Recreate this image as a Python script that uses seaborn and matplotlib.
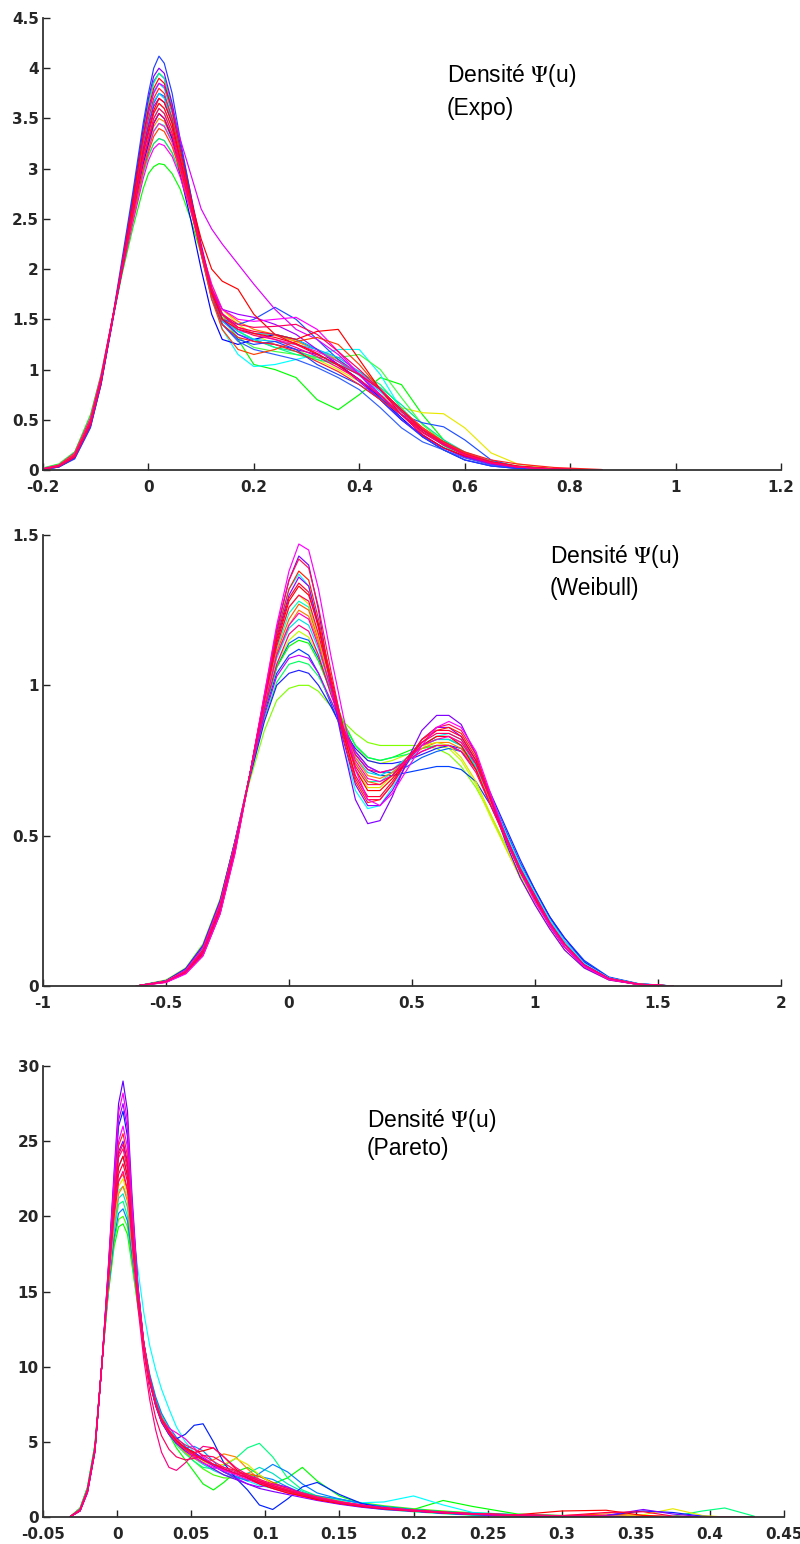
import matplotlib
matplotlib.use("Agg")
import matplotlib.pyplot as plt
import pandas as pd
import seaborn as sns

sns.set_theme(style="ticks")
plt.rcParams["font.family"] = ["Liberation Sans", "DejaVu Sans"]
plt.rcParams["mathtext.fontset"] = "stix"

# ---------------- Expo ----------------
expo_u = [-0.20, -0.17, -0.14, -0.11, -0.09, -0.07, -0.05, -0.03, -0.01, 0.00,
          0.01, 0.02, 0.03, 0.045, 0.06, 0.08, 0.10, 0.12, 0.14, 0.17,
          0.20, 0.24, 0.28, 0.32, 0.36, 0.40, 0.44, 0.48, 0.52, 0.56,
          0.60, 0.65, 0.70, 0.77, 0.86]
expo_curves = [
    [0.02, 0.06, 0.18, 0.55, 0.95, 1.45, 1.95, 2.4, 2.8, 2.95, 3.02, 3.05, 3.04, 2.95, 2.8, 2.5, 2.15, 1.8, 1.55, 1.3, 1.05, 1.0, 0.92, 0.7, 0.6, 0.75, 0.92, 0.85, 0.55, 0.3, 0.14, 0.06, 0.03, 0.01, 0.0],
    [0.01, 0.05, 0.16, 0.5, 0.92, 1.45, 1.98, 2.5, 2.95, 3.12, 3.25, 3.3, 3.28, 3.15, 2.95, 2.6, 2.2, 1.85, 1.6, 1.45, 1.35, 1.25, 1.2, 1.1, 1.0, 0.88, 0.75, 0.62, 0.57, 0.56, 0.42, 0.17, 0.06, 0.015, 0.0],
    [0.012, 0.048, 0.16, 0.5, 0.92, 1.46, 1.98, 2.48, 2.95, 3.13, 3.25, 3.3, 3.28, 3.16, 2.95, 2.6, 2.2, 1.82, 1.55, 1.38, 1.3, 1.22, 1.18, 1.12, 1.05, 0.95, 0.82, 0.65, 0.46, 0.3, 0.18, 0.09, 0.04, 0.012, 0.0],
    [0.015, 0.05, 0.16, 0.5, 0.93, 1.47, 2.0, 2.5, 3.0, 3.2, 3.38, 3.45, 3.43, 3.28, 3.05, 2.65, 2.2, 1.75, 1.4, 1.15, 1.03, 1.05, 1.1, 1.15, 1.2, 1.2, 0.95, 0.6, 0.38, 0.25, 0.15, 0.07, 0.03, 0.008, 0.0],
    [0.012, 0.045, 0.15, 0.48, 0.9, 1.45, 2.0, 2.56, 3.1, 3.31, 3.5, 3.6, 3.55, 3.36, 3.06, 2.65, 2.2, 1.78, 1.5, 1.32, 1.22, 1.18, 1.15, 1.12, 1.12, 1.15, 1.0, 0.72, 0.45, 0.28, 0.16, 0.07, 0.03, 0.008, 0.0],
    [0.01, 0.045, 0.15, 0.49, 0.91, 1.46, 2.0, 2.52, 3.02, 3.22, 3.42, 3.5, 3.47, 3.3, 3.0, 2.62, 2.2, 1.82, 1.6, 1.48, 1.4, 1.35, 1.28, 1.2, 1.08, 0.95, 0.8, 0.6, 0.42, 0.28, 0.17, 0.08, 0.035, 0.01, 0.0],
    [0.01, 0.04, 0.14, 0.47, 0.9, 1.45, 2.01, 2.58, 3.15, 3.36, 3.56, 3.65, 3.6, 3.4, 3.08, 2.66, 2.2, 1.78, 1.52, 1.4, 1.36, 1.34, 1.28, 1.2, 1.1, 0.96, 0.8, 0.6, 0.42, 0.27, 0.16, 0.075, 0.03, 0.008, 0.0],
    [0.008, 0.035, 0.13, 0.46, 0.88, 1.43, 1.98, 2.52, 3.05, 3.25, 3.45, 3.55, 3.5, 3.3, 2.95, 2.5, 2.0, 1.55, 1.3, 1.25, 1.3, 1.35, 1.3, 1.2, 1.05, 0.9, 0.72, 0.52, 0.33, 0.2, 0.1, 0.04, 0.015, 0.004, 0.0],
    [0.005, 0.03, 0.12, 0.44, 0.86, 1.42, 2.02, 2.6, 3.2, 3.45, 3.65, 3.75, 3.72, 3.5, 3.15, 2.7, 2.2, 1.75, 1.5, 1.45, 1.5, 1.62, 1.5, 1.3, 1.1, 0.95, 0.72, 0.55, 0.47, 0.43, 0.3, 0.1, 0.03, 0.005, 0.0],
    [0.006, 0.032, 0.12, 0.44, 0.86, 1.44, 2.06, 2.7, 3.38, 3.66, 3.87, 3.95, 3.9, 3.62, 3.22, 2.72, 2.2, 1.75, 1.45, 1.28, 1.2, 1.15, 1.1, 1.02, 0.92, 0.8, 0.62, 0.42, 0.28, 0.2, 0.12, 0.05, 0.02, 0.005, 0.0],
    [0.012, 0.045, 0.15, 0.48, 0.9, 1.46, 2.05, 2.68, 3.35, 3.65, 3.85, 3.95, 3.9, 3.6, 3.2, 2.7, 2.2, 1.78, 1.5, 1.38, 1.3, 1.22, 1.15, 1.1, 1.05, 0.98, 0.85, 0.62, 0.4, 0.24, 0.13, 0.06, 0.025, 0.006, 0.0],
    [0.008, 0.035, 0.13, 0.45, 0.87, 1.44, 2.04, 2.65, 3.3, 3.57, 3.77, 3.85, 3.8, 3.55, 3.2, 2.72, 2.22, 1.75, 1.48, 1.35, 1.3, 1.28, 1.25, 1.2, 1.12, 0.98, 0.8, 0.58, 0.4, 0.26, 0.15, 0.07, 0.03, 0.008, 0.0],
    [0.01, 0.04, 0.13, 0.46, 0.88, 1.45, 2.03, 2.62, 3.25, 3.48, 3.67, 3.75, 3.7, 3.48, 3.14, 2.7, 2.22, 1.78, 1.5, 1.38, 1.36, 1.35, 1.3, 1.2, 1.08, 0.94, 0.78, 0.58, 0.4, 0.26, 0.15, 0.07, 0.03, 0.008, 0.0],
    [0.005, 0.03, 0.12, 0.43, 0.85, 1.43, 2.05, 2.7, 3.4, 3.7, 3.92, 4.0, 3.95, 3.65, 3.25, 2.75, 2.25, 1.8, 1.5, 1.35, 1.28, 1.25, 1.2, 1.15, 1.05, 0.9, 0.7, 0.5, 0.35, 0.22, 0.13, 0.06, 0.025, 0.006, 0.0],
    [0.01, 0.04, 0.13, 0.46, 0.88, 1.44, 2.02, 2.6, 3.2, 3.42, 3.62, 3.7, 3.66, 3.45, 3.1, 2.65, 2.2, 1.8, 1.6, 1.55, 1.52, 1.45, 1.35, 1.2, 1.05, 0.88, 0.7, 0.5, 0.34, 0.22, 0.13, 0.06, 0.025, 0.006, 0.0],
    [0.005, 0.03, 0.11, 0.42, 0.85, 1.45, 2.1, 2.75, 3.45, 3.75, 4.0, 4.12, 4.05, 3.75, 3.3, 2.75, 2.15, 1.7, 1.45, 1.3, 1.25, 1.28, 1.2, 1.05, 0.95, 0.85, 0.7, 0.5, 0.33, 0.2, 0.1, 0.04, 0.015, 0.004, 0.0],
    [0.015, 0.05, 0.17, 0.52, 0.94, 1.47, 1.98, 2.45, 2.9, 3.08, 3.2, 3.25, 3.23, 3.12, 2.92, 2.58, 2.2, 1.85, 1.6, 1.5, 1.48, 1.5, 1.52, 1.4, 1.18, 0.95, 0.75, 0.55, 0.4, 0.27, 0.16, 0.08, 0.03, 0.008, 0.0],
    [0.012, 0.046, 0.15, 0.49, 0.91, 1.46, 1.99, 2.5, 3.0, 3.19, 3.37, 3.45, 3.42, 3.26, 2.98, 2.6, 2.18, 1.8, 1.56, 1.42, 1.36, 1.3, 1.25, 1.18, 1.08, 0.96, 0.8, 0.6, 0.42, 0.28, 0.17, 0.08, 0.035, 0.01, 0.0],
    [0.01, 0.04, 0.13, 0.45, 0.88, 1.45, 2.05, 2.65, 3.3, 3.55, 3.75, 3.85, 3.82, 3.6, 3.3, 2.95, 2.6, 2.4, 2.25, 2.05, 1.85, 1.6, 1.4, 1.3, 1.15, 0.95, 0.75, 0.55, 0.4, 0.28, 0.17, 0.08, 0.03, 0.01, 0.0],
    [0.012, 0.048, 0.16, 0.5, 0.92, 1.46, 1.99, 2.5, 2.98, 3.16, 3.32, 3.4, 3.37, 3.22, 2.98, 2.6, 2.15, 1.7, 1.4, 1.2, 1.15, 1.2, 1.28, 1.32, 1.25, 1.05, 0.8, 0.6, 0.42, 0.28, 0.17, 0.08, 0.035, 0.01, 0.0],
    [0.01, 0.04, 0.14, 0.47, 0.9, 1.46, 2.0, 2.57, 3.15, 3.38, 3.58, 3.7, 3.66, 3.45, 3.1, 2.7, 2.3, 2.0, 1.88, 1.8, 1.55, 1.35, 1.3, 1.38, 1.4, 1.1, 0.8, 0.55, 0.35, 0.22, 0.14, 0.08, 0.04, 0.01, 0.0],
    [0.008, 0.035, 0.13, 0.46, 0.88, 1.45, 2.02, 2.62, 3.25, 3.5, 3.7, 3.8, 3.75, 3.5, 3.15, 2.7, 2.2, 1.75, 1.45, 1.32, 1.28, 1.25, 1.18, 1.08, 0.98, 0.85, 0.7, 0.55, 0.4, 0.28, 0.18, 0.1, 0.06, 0.025, 0.005],
    [0.008, 0.036, 0.13, 0.45, 0.87, 1.44, 2.04, 2.66, 3.33, 3.6, 3.8, 3.9, 3.85, 3.58, 3.2, 2.72, 2.22, 1.77, 1.5, 1.4, 1.36, 1.32, 1.26, 1.16, 1.04, 0.9, 0.74, 0.55, 0.38, 0.25, 0.15, 0.07, 0.03, 0.008, 0.0],
    [0.01, 0.04, 0.14, 0.47, 0.9, 1.45, 2.0, 2.58, 3.15, 3.35, 3.55, 3.65, 3.6, 3.4, 3.08, 2.68, 2.22, 1.8, 1.55, 1.42, 1.38, 1.35, 1.25, 1.15, 1.05, 0.95, 0.8, 0.6, 0.4, 0.26, 0.16, 0.08, 0.035, 0.01, 0.0],
    [0.01, 0.042, 0.14, 0.47, 0.89, 1.45, 2.0, 2.54, 3.08, 3.28, 3.46, 3.55, 3.5, 3.32, 3.02, 2.62, 2.18, 1.78, 1.55, 1.45, 1.42, 1.43, 1.45, 1.35, 1.18, 1.0, 0.8, 0.58, 0.4, 0.26, 0.15, 0.07, 0.03, 0.008, 0.0],
    [0.01, 0.04, 0.14, 0.48, 0.9, 1.45, 2.0, 2.55, 3.1, 3.3, 3.5, 3.6, 3.55, 3.35, 3.05, 2.65, 2.2, 1.8, 1.55, 1.4, 1.34, 1.3, 1.22, 1.13, 1.02, 0.9, 0.74, 0.55, 0.37, 0.25, 0.15, 0.07, 0.03, 0.008, 0.0],
]
expo_colors = ["#00ff00", "#e8e800", "#00e0a0", "#00ffff", "#40ff40", "#ff8000",
               "#ffa000", "#0000ff", "#1f4fff", "#3060ff", "#00ff80", "#00c0ff",
               "#00d0ff", "#8000ff", "#a000ff", "#2040ff", "#ff00ff", "#ff20c0",
               "#e000ff", "#ff4000", "#ff0000", "#ff2020", "#ff0010", "#ff0040",
               "#ff0060", "#ff0080"]
expo_xticks = [-0.2, 0, 0.2, 0.4, 0.6, 0.8, 1, 1.2]
expo_xlabels = ["-0.2", "0", "0.2", "0.4", "0.6", "0.8", "1", "1.2"]
expo_yticks = [0, 0.5, 1, 1.5, 2, 2.5, 3, 3.5, 4, 4.5]
expo_ylabels = ["0", "0.5", "1", "1.5", "2", "2.5", "3", "3.5", "4", "4.5"]

# ---------------- Weibull ----------------
weib_u = [-0.62, -0.50, -0.42, -0.35, -0.28, -0.22, -0.16, -0.10, -0.05, 0.00,
          0.04, 0.08, 0.12, 0.17, 0.22, 0.27, 0.32, 0.37, 0.42, 0.48,
          0.54, 0.60, 0.65, 0.70, 0.76, 0.82, 0.88, 0.94, 1.00, 1.06,
          1.12, 1.20, 1.30, 1.42, 1.56]
weib_curves = [
    [0.0, 0.02, 0.06, 0.14, 0.29, 0.48, 0.68, 0.85, 0.95, 0.99, 1.0, 1.0, 0.98, 0.93, 0.88, 0.84, 0.81, 0.8, 0.8, 0.8, 0.8, 0.79, 0.77, 0.73, 0.66, 0.57, 0.47, 0.37, 0.28, 0.2, 0.14, 0.07, 0.025, 0.006, 0.0],
    [0.0, 0.016, 0.052, 0.125, 0.27, 0.47, 0.7, 0.92, 1.07, 1.15, 1.18, 1.16, 1.1, 0.99, 0.88, 0.8, 0.75, 0.74, 0.75, 0.77, 0.79, 0.8, 0.79, 0.75, 0.67, 0.56, 0.46, 0.36, 0.28, 0.2, 0.13, 0.065, 0.022, 0.005, 0.0],
    [0.0, 0.017, 0.055, 0.13, 0.28, 0.48, 0.7, 0.91, 1.04, 1.1, 1.12, 1.1, 1.04, 0.94, 0.84, 0.77, 0.72, 0.7, 0.7, 0.71, 0.72, 0.73, 0.73, 0.72, 0.68, 0.6, 0.5, 0.4, 0.31, 0.23, 0.16, 0.085, 0.03, 0.008, 0.0],
    [0.0, 0.016, 0.053, 0.127, 0.275, 0.475, 0.7, 0.92, 1.06, 1.14, 1.16, 1.15, 1.09, 0.98, 0.87, 0.78, 0.73, 0.71, 0.71, 0.73, 0.76, 0.78, 0.79, 0.78, 0.73, 0.63, 0.52, 0.41, 0.32, 0.23, 0.15, 0.08, 0.028, 0.007, 0.0],
    [0.0, 0.016, 0.052, 0.125, 0.27, 0.47, 0.7, 0.92, 1.06, 1.13, 1.15, 1.14, 1.08, 0.98, 0.88, 0.8, 0.76, 0.75, 0.76, 0.78, 0.8, 0.82, 0.82, 0.8, 0.73, 0.61, 0.49, 0.38, 0.29, 0.2, 0.13, 0.065, 0.022, 0.005, 0.0],
    [0.0, 0.017, 0.056, 0.132, 0.282, 0.48, 0.69, 0.89, 1.01, 1.07, 1.08, 1.07, 1.03, 0.95, 0.87, 0.8, 0.76, 0.75, 0.76, 0.77, 0.79, 0.8, 0.8, 0.78, 0.72, 0.62, 0.51, 0.4, 0.31, 0.22, 0.15, 0.075, 0.027, 0.007, 0.0],
    [0.0, 0.018, 0.058, 0.135, 0.285, 0.48, 0.69, 0.88, 1.0, 1.04, 1.05, 1.04, 1.0, 0.93, 0.85, 0.79, 0.75, 0.74, 0.74, 0.75, 0.77, 0.79, 0.8, 0.79, 0.74, 0.64, 0.53, 0.42, 0.32, 0.23, 0.16, 0.08, 0.028, 0.007, 0.0],
    [0.0, 0.017, 0.054, 0.13, 0.28, 0.48, 0.7, 0.9, 1.03, 1.09, 1.1, 1.09, 1.04, 0.95, 0.86, 0.78, 0.73, 0.71, 0.72, 0.75, 0.78, 0.8, 0.8, 0.78, 0.72, 0.62, 0.51, 0.4, 0.31, 0.22, 0.15, 0.075, 0.027, 0.007, 0.0],
    [0.0, 0.015, 0.048, 0.115, 0.26, 0.46, 0.7, 0.94, 1.12, 1.24, 1.28, 1.26, 1.16, 1.01, 0.86, 0.74, 0.68, 0.68, 0.71, 0.76, 0.8, 0.82, 0.82, 0.8, 0.73, 0.62, 0.5, 0.39, 0.3, 0.21, 0.14, 0.07, 0.025, 0.006, 0.0],
    [0.0, 0.015, 0.05, 0.12, 0.27, 0.47, 0.7, 0.93, 1.09, 1.19, 1.22, 1.2, 1.12, 0.99, 0.86, 0.76, 0.71, 0.7, 0.72, 0.76, 0.8, 0.82, 0.82, 0.8, 0.73, 0.61, 0.5, 0.39, 0.3, 0.21, 0.14, 0.07, 0.025, 0.006, 0.0],
    [0.0, 0.016, 0.05, 0.12, 0.27, 0.47, 0.7, 0.93, 1.1, 1.2, 1.25, 1.23, 1.14, 1.0, 0.87, 0.76, 0.7, 0.69, 0.71, 0.75, 0.79, 0.81, 0.81, 0.79, 0.72, 0.61, 0.5, 0.39, 0.3, 0.21, 0.14, 0.07, 0.025, 0.006, 0.0],
    [0.0, 0.015, 0.049, 0.118, 0.262, 0.465, 0.7, 0.94, 1.11, 1.22, 1.27, 1.25, 1.15, 1.0, 0.86, 0.74, 0.68, 0.67, 0.7, 0.75, 0.8, 0.83, 0.83, 0.81, 0.74, 0.62, 0.5, 0.39, 0.3, 0.21, 0.14, 0.07, 0.025, 0.006, 0.0],
    [0.0, 0.014, 0.046, 0.11, 0.25, 0.46, 0.7, 0.94, 1.13, 1.26, 1.3, 1.27, 1.16, 1.0, 0.84, 0.72, 0.66, 0.66, 0.7, 0.76, 0.8, 0.81, 0.8, 0.76, 0.68, 0.57, 0.46, 0.36, 0.27, 0.19, 0.12, 0.06, 0.02, 0.005, 0.0],
    [0.0, 0.013, 0.042, 0.1, 0.24, 0.45, 0.7, 0.96, 1.17, 1.32, 1.37, 1.33, 1.2, 1.0, 0.8, 0.65, 0.59, 0.6, 0.66, 0.74, 0.8, 0.83, 0.84, 0.82, 0.75, 0.63, 0.51, 0.4, 0.31, 0.22, 0.15, 0.075, 0.027, 0.007, 0.0],
    [0.0, 0.014, 0.045, 0.11, 0.25, 0.45, 0.7, 0.96, 1.18, 1.35, 1.43, 1.4, 1.25, 1.0, 0.8, 0.62, 0.54, 0.55, 0.63, 0.75, 0.85, 0.9, 0.9, 0.87, 0.77, 0.62, 0.48, 0.36, 0.27, 0.19, 0.12, 0.06, 0.02, 0.005, 0.0],
    [0.0, 0.013, 0.043, 0.105, 0.245, 0.45, 0.7, 0.96, 1.16, 1.3, 1.36, 1.33, 1.2, 1.0, 0.82, 0.67, 0.6, 0.6, 0.65, 0.74, 0.82, 0.86, 0.86, 0.83, 0.75, 0.62, 0.49, 0.38, 0.29, 0.2, 0.13, 0.065, 0.022, 0.005, 0.0],
    [0.0, 0.015, 0.048, 0.115, 0.26, 0.46, 0.7, 0.95, 1.14, 1.28, 1.33, 1.3, 1.2, 1.03, 0.86, 0.72, 0.65, 0.65, 0.69, 0.75, 0.8, 0.83, 0.83, 0.8, 0.72, 0.6, 0.49, 0.38, 0.29, 0.21, 0.14, 0.07, 0.025, 0.006, 0.0],
    [0.0, 0.013, 0.043, 0.103, 0.243, 0.445, 0.7, 0.96, 1.17, 1.32, 1.38, 1.35, 1.22, 1.02, 0.83, 0.68, 0.61, 0.62, 0.67, 0.75, 0.82, 0.85, 0.86, 0.84, 0.76, 0.63, 0.5, 0.39, 0.3, 0.21, 0.14, 0.07, 0.025, 0.006, 0.0],
    [0.0, 0.012, 0.042, 0.1, 0.24, 0.44, 0.7, 0.97, 1.19, 1.35, 1.42, 1.39, 1.26, 1.05, 0.85, 0.69, 0.62, 0.62, 0.67, 0.75, 0.82, 0.86, 0.87, 0.85, 0.77, 0.63, 0.5, 0.38, 0.29, 0.2, 0.13, 0.065, 0.022, 0.005, 0.0],
    [0.0, 0.014, 0.045, 0.108, 0.25, 0.455, 0.7, 0.955, 1.15, 1.29, 1.34, 1.31, 1.19, 1.01, 0.84, 0.7, 0.63, 0.63, 0.68, 0.75, 0.81, 0.85, 0.85, 0.83, 0.75, 0.62, 0.5, 0.38, 0.29, 0.2, 0.13, 0.065, 0.022, 0.005, 0.0],
    [0.0, 0.015, 0.05, 0.12, 0.268, 0.468, 0.7, 0.93, 1.1, 1.2, 1.24, 1.22, 1.13, 0.99, 0.86, 0.75, 0.69, 0.68, 0.7, 0.75, 0.8, 0.82, 0.83, 0.81, 0.74, 0.62, 0.5, 0.39, 0.3, 0.21, 0.14, 0.07, 0.025, 0.006, 0.0],
    [0.0, 0.012, 0.04, 0.1, 0.24, 0.44, 0.7, 0.97, 1.2, 1.38, 1.47, 1.45, 1.32, 1.1, 0.9, 0.72, 0.62, 0.6, 0.64, 0.72, 0.8, 0.86, 0.88, 0.86, 0.78, 0.64, 0.5, 0.38, 0.28, 0.2, 0.13, 0.065, 0.022, 0.005, 0.0],
    [0.0, 0.014, 0.047, 0.112, 0.255, 0.46, 0.7, 0.95, 1.13, 1.26, 1.3, 1.28, 1.17, 1.01, 0.85, 0.73, 0.67, 0.67, 0.7, 0.76, 0.81, 0.84, 0.84, 0.82, 0.74, 0.62, 0.5, 0.39, 0.3, 0.21, 0.14, 0.07, 0.025, 0.006, 0.0],
    [0.0, 0.015, 0.05, 0.12, 0.27, 0.47, 0.7, 0.92, 1.07, 1.17, 1.2, 1.18, 1.1, 0.97, 0.86, 0.77, 0.72, 0.71, 0.72, 0.75, 0.78, 0.8, 0.8, 0.78, 0.71, 0.6, 0.49, 0.38, 0.3, 0.21, 0.14, 0.07, 0.025, 0.006, 0.0],
]
weib_colors = ["#80ff00", "#c0ff00", "#0040ff", "#0060ff", "#00ff00", "#00ff60",
               "#2020ff", "#c000ff", "#00ffc0", "#00e0e0", "#ff8000", "#ff6000",
               "#e0e000", "#00ffff", "#8000ff", "#9000ff", "#ff0000", "#ff2000",
               "#ff1050", "#ff0030", "#ff00c0", "#ff00ff", "#ff0060", "#ff0080"]
weib_xticks = [-1, -0.5, 0, 0.5, 1, 1.5, 2]
weib_xlabels = ["-1", "-0.5", "0", "0.5", "1", "1.5", "2"]
weib_yticks = [0, 0.5, 1, 1.5]
weib_ylabels = ["0", "0.5", "1", "1.5"]

# ---------------- Pareto ----------------
pareto_u = [-0.032, -0.025, -0.020, -0.015, -0.010, -0.006, -0.002, 0.001, 0.004, 0.007,
            0.010, 0.014, 0.018, 0.022, 0.026, 0.030, 0.035, 0.040, 0.046, 0.052,
            0.058, 0.065, 0.072, 0.080, 0.088, 0.096, 0.105, 0.115, 0.125, 0.135,
            0.150, 0.165, 0.180, 0.200, 0.220, 0.240, 0.270, 0.300, 0.330, 0.355,
            0.375, 0.395, 0.410, 0.430]
pareto_curves = [
    [0.0, 0.6, 2.0, 4.8, 10.5, 14.8, 18.0, 19.3, 19.5, 18.8, 16.8, 14.0, 11.5, 9.3, 7.8, 6.5, 5.5, 4.6, 3.8, 3.0, 2.2, 1.8, 2.3, 3.0, 3.3, 2.8, 2.2, 2.6, 3.3, 2.4, 1.4, 0.9, 0.7,
     0.5, 1.1, 0.7, 0.2, 0.08, 0.04, 0.02, 0.01, 0.005, 0.0, 0.0],
    [0.0, 0.58, 1.95, 4.75, 10.5, 14.9, 18.3, 19.8, 20.0, 19.3, 17.0, 14.1, 11.5, 9.4, 7.9, 6.8, 5.8, 5.0, 4.3, 3.7, 3.2, 2.8, 2.6, 2.6, 2.8, 2.7, 2.3, 1.9, 1.6, 1.4, 1.15, 0.95, 0.75,
     0.55, 0.4, 0.28, 0.16, 0.1, 0.05, 0.03, 0.015, 0.005, 0.0, 0.0],
    [0.0, 0.5, 1.9, 4.6, 10.5, 15.2, 19.0, 20.8, 21.0, 20.0, 17.5, 14.2, 11.5, 9.2, 7.7, 6.5, 5.5, 4.8, 4.2, 3.7, 3.3, 3.2, 3.4, 3.9, 4.6, 4.9, 4.0, 2.6, 1.8, 1.4, 1.0, 0.7, 0.5,
     0.35, 0.22, 0.12, 0.08, 0.05, 0.03, 0.02, 0.05, 0.4, 0.6, 0.05],
    [0.0, 0.52, 1.85, 4.55, 10.5, 15.2, 19.3, 21.2, 21.5, 20.6, 17.9, 14.4, 11.5, 9.3, 7.8, 6.7, 5.8, 5.0, 4.4, 3.9, 3.5, 3.1, 2.8, 2.6, 2.9, 3.3, 2.9, 2.2, 1.7, 1.35, 1.0, 0.78, 0.6,
     0.45, 0.32, 0.22, 0.13, 0.08, 0.04, 0.02, 0.01, 0.005, 0.0, 0.0],
    [0.0, 0.5, 1.8, 4.5, 10.5, 15.3, 19.6, 21.7, 22.0, 21.3, 19.5, 16.5, 13.6, 11.4, 9.8, 8.5, 7.2, 6.0, 5.0, 4.3, 3.8, 3.4, 3.0, 2.7, 2.4, 2.1, 1.9, 1.7, 1.5, 1.3, 1.1, 0.95, 1.0,
     1.4, 0.8, 0.3, 0.15, 0.08, 0.04, 0.02, 0.01, 0.005, 0.0, 0.0],
    [0.0, 0.55, 1.9, 4.7, 10.5, 15.0, 18.6, 20.2, 20.5, 19.7, 17.4, 14.3, 11.6, 9.5, 8.0, 6.9, 6.0, 5.3, 4.7, 4.2, 3.8, 3.4, 3.0, 2.7, 2.4, 2.9, 3.5, 3.0, 2.2, 1.6, 1.2, 0.9, 0.7,
     0.5, 0.35, 0.25, 0.15, 0.09, 0.05, 0.03, 0.02, 0.01, 0.0, 0.0],
    [0.0, 0.45, 1.75, 4.45, 10.5, 15.8, 20.8, 23.3, 24.0, 22.6, 18.8, 14.6, 11.4, 9.1, 7.6, 6.5, 5.6, 4.9, 4.6, 4.7, 4.4, 3.7, 3.0, 2.6, 2.5, 2.7, 2.5, 2.0, 1.6, 1.4, 1.2, 0.9, 0.62,
     0.42, 0.3, 0.2, 0.12, 0.07, 0.04, 0.02, 0.01, 0.005, 0.0, 0.0],
    [0.0, 0.5, 1.8, 4.5, 10.5, 15.3, 19.5, 21.5, 22.0, 21.0, 18.0, 14.3, 11.3, 9.0, 7.6, 6.5, 5.6, 4.9, 4.3, 3.9, 3.6, 3.8, 4.2, 4.0, 3.2, 2.5, 2.1, 1.8, 1.5, 1.25, 0.95, 0.75, 0.6,
     0.45, 0.32, 0.22, 0.13, 0.08, 0.04, 0.02, 0.01, 0.005, 0.0, 0.0],
    [0.0, 0.48, 1.8, 4.5, 10.5, 15.5, 20.2, 22.4, 22.8, 21.6, 18.4, 14.4, 11.3, 9.0, 7.5, 6.4, 5.6, 5.0, 4.6, 4.2, 3.8, 3.4, 3.1, 2.9, 2.9, 2.7, 2.3, 1.9, 1.6, 1.35, 1.05, 0.8, 0.62,
     0.45, 0.32, 0.22, 0.13, 0.1, 0.2, 0.1, 0.02, 0.005, 0.0, 0.0],
    [0.0, 0.5, 1.8, 4.5, 10.5, 15.4, 19.8, 22.0, 22.5, 21.4, 18.2, 14.3, 11.3, 9.1, 7.6, 6.6, 5.8, 5.1, 4.6, 4.1, 3.7, 3.4, 3.5, 3.9, 3.5, 2.8, 2.2, 1.8, 1.5, 1.2, 0.9, 0.7, 0.55,
     0.4, 0.28, 0.18, 0.1, 0.06, 0.04, 0.15, 0.55, 0.1, 0.0, 0.0],
    [0.0, 0.4, 1.7, 4.4, 10.5, 16.2, 22.0, 26.0, 27.0, 25.3, 20.5, 15.2, 11.5, 9.0, 7.4, 6.3, 5.5, 5.2, 5.5, 6.1, 6.2, 5.0, 3.6, 2.6, 1.8, 0.8, 0.5, 1.2, 2.0, 2.3, 1.5, 0.9, 0.6,
     0.4, 0.25, 0.15, 0.08, 0.05, 0.1, 0.4, 0.3, 0.05, 0.0, 0.0],
    [0.0, 0.45, 1.7, 4.4, 10.5, 16.0, 21.0, 24.3, 25.0, 23.6, 19.5, 15.0, 11.6, 9.2, 7.6, 6.4, 5.5, 4.9, 4.4, 4.0, 3.6, 3.2, 2.8, 2.5, 2.2, 1.9, 1.7, 1.5, 1.3, 1.1, 0.85, 0.65, 0.5,
     0.38, 0.27, 0.18, 0.1, 0.06, 0.1, 0.5, 0.2, 0.02, 0.0, 0.0],
    [0.0, 0.4, 1.65, 4.35, 10.5, 16.3, 22.3, 26.4, 27.5, 25.8, 20.8, 15.3, 11.5, 9.0, 7.4, 6.3, 5.5, 4.9, 4.5, 4.1, 3.8, 3.4, 3.0, 2.6, 2.2, 2.0, 2.2, 2.0, 1.5, 1.15, 0.9, 0.7, 0.55,
     0.4, 0.28, 0.18, 0.1, 0.06, 0.03, 0.02, 0.01, 0.005, 0.0, 0.0],
    [0.0, 0.4, 1.6, 4.3, 10.5, 16.5, 23.0, 27.5, 29.0, 27.0, 21.5, 15.5, 11.5, 9.0, 7.5, 6.4, 5.6, 5.0, 4.6, 4.3, 3.9, 3.5, 3.2, 2.9, 2.6, 2.3, 2.0, 1.7, 1.4, 1.2, 0.9, 0.7, 0.55,
     0.4, 0.28, 0.18, 0.1, 0.06, 0.03, 0.015, 0.008, 0.004, 0.0, 0.0],
    [0.0, 0.42, 1.7, 4.4, 10.5, 16.0, 21.5, 25.0, 26.0, 24.6, 20.0, 15.0, 11.5, 9.0, 7.5, 6.4, 5.6, 5.0, 4.5, 4.0, 3.6, 3.3, 3.1, 2.9, 2.6, 2.3, 2.0, 1.7, 1.5, 1.3, 1.0, 0.8, 0.6,
     0.45, 0.3, 0.2, 0.12, 0.07, 0.04, 0.02, 0.01, 0.005, 0.0, 0.0],
    [0.0, 0.42, 1.65, 4.35, 10.5, 16.4, 22.6, 26.9, 28.2, 26.3, 21.0, 15.4, 11.6, 9.2, 7.6, 6.5, 5.9, 5.6, 5.2, 4.6, 4.0, 3.5, 3.1, 2.8, 2.5, 2.2, 1.9, 1.6, 1.35, 1.15, 0.9, 0.7, 0.55,
     0.4, 0.28, 0.18, 0.1, 0.06, 0.03, 0.02, 0.01, 0.005, 0.0, 0.0],
    [0.0, 0.45, 1.75, 4.5, 10.5, 15.8, 20.8, 23.3, 24.0, 22.7, 19.0, 14.8, 11.5, 9.1, 7.6, 6.5, 5.7, 5.1, 4.6, 4.3, 4.4, 4.6, 4.0, 3.2, 2.6, 2.2, 1.9, 1.6, 1.4, 1.15, 0.9, 0.7, 0.55,
     0.4, 0.28, 0.2, 0.15, 0.4, 0.45, 0.1, 0.02, 0.0, 0.0, 0.0],
    [0.0, 0.43, 1.7, 4.4, 10.5, 16.0, 21.3, 24.7, 25.5, 24.0, 19.8, 15.0, 11.5, 9.1, 7.5, 6.4, 5.6, 5.0, 4.5, 4.1, 3.8, 3.5, 3.3, 3.1, 2.8, 2.4, 2.0, 1.7, 1.45, 1.25, 0.95, 0.75, 0.58,
     0.42, 0.3, 0.2, 0.12, 0.07, 0.04, 0.02, 0.01, 0.005, 0.0, 0.0],
    [0.0, 0.48, 1.78, 4.5, 10.5, 15.6, 20.3, 22.8, 23.5, 22.3, 18.7, 14.6, 11.4, 9.1, 7.6, 6.5, 5.7, 5.1, 4.6, 4.2, 3.8, 3.5, 3.2, 2.9, 2.6, 2.3, 2.0, 1.75, 1.5, 1.25, 0.95, 0.75, 0.6,
     0.45, 0.32, 0.22, 0.14, 0.08, 0.3, 0.35, 0.06, 0.01, 0.0, 0.0],
    [0.0, 0.45, 1.72, 4.45, 10.5, 15.9, 21.0, 23.9, 24.5, 23.1, 19.2, 14.9, 11.6, 9.3, 7.7, 6.6, 5.8, 5.2, 4.8, 4.5, 4.1, 3.7, 3.3, 3.0, 2.7, 2.4, 2.1, 1.8, 1.55, 1.3, 1.0, 0.78, 0.6,
     0.45, 0.32, 0.22, 0.14, 0.08, 0.05, 0.03, 0.015, 0.005, 0.0, 0.0],
    [0.0, 0.45, 1.72, 4.45, 10.5, 15.9, 21.1, 24.1, 24.8, 23.4, 19.4, 14.7, 11.0, 8.4, 6.6, 5.4, 4.5, 4.0, 3.8, 3.9, 4.1, 4.0, 3.6, 3.1, 2.7, 2.4, 2.1, 1.8, 1.5, 1.25, 0.95, 0.75, 0.58,
     0.42, 0.3, 0.2, 0.12, 0.07, 0.04, 0.02, 0.01, 0.005, 0.0, 0.0],
    [0.0, 0.5, 1.8, 4.5, 10.5, 15.5, 20.0, 22.3, 23.0, 21.8, 18.3, 14.0, 10.5, 7.8, 5.8, 4.3, 3.3, 3.1, 3.6, 4.2, 4.7, 4.6, 4.0, 3.3, 2.8, 2.5, 2.2, 1.9, 1.6, 1.3, 1.0, 0.8, 0.6,
     0.42, 0.3, 0.2, 0.12, 0.07, 0.04, 0.02, 0.01, 0.005, 0.0, 0.0],
]
pareto_colors = ["#00ff00", "#40ff00", "#00ff80", "#00e0c0", "#00ffff", "#0080ff",
                 "#0090ff", "#ff8000", "#ff5000", "#e8e800", "#0020ff", "#8000ff",
                 "#a000ff", "#6000ff", "#ff00ff", "#ff00e0", "#ff0000", "#ff2020",
                 "#ff0040", "#ff1070", "#ff0060", "#ff0080"]
pareto_xticks = [-0.05, 0, 0.05, 0.1, 0.15, 0.2, 0.25, 0.3, 0.35, 0.4, 0.45]
pareto_xlabels = ["-0.05", "0", "0.05", "0.1", "0.15", "0.2", "0.25", "0.3", "0.35", "0.4", "0.45"]
pareto_yticks = [0, 5, 10, 15, 20, 25, 30]
pareto_ylabels = ["0", "5", "10", "15", "20", "25", "30"]

W, H = 800, 1544
fig = plt.figure(figsize=(W / 100, H / 100), dpi=100, facecolor="white")


def axes_from_pixels(left, top, right, bottom):
    return fig.add_axes([left / W, 1 - bottom / H, (right - left) / W, (bottom - top) / H])


def draw_panel(ax, u, curves, colors, xlim, ylim, xticks, xlabels, yticks, ylabels):
    assert len(curves) == len(colors)
    frames = []
    for k, ys in enumerate(curves):
        assert len(ys) == len(u), (k, len(ys), len(u))
        frames.append(pd.DataFrame({"u": u, "densite": ys, "courbe": f"c{k:02d}"}))
    df = pd.concat(frames, ignore_index=True)
    palette = {f"c{k:02d}": c for k, c in enumerate(colors)}
    sns.lineplot(data=df, x="u", y="densite", hue="courbe", palette=palette,
                 estimator=None, sort=False, legend=False, linewidth=0.85, ax=ax)
    ax.set_xlim(*xlim)
    ax.set_ylim(*ylim)
    ax.set_xlabel("")
    ax.set_ylabel("")
    ax.set_facecolor("white")
    for side in ("top", "right"):
        ax.spines[side].set_visible(False)
    for side in ("left", "bottom"):
        ax.spines[side].set_color("#333333")
        ax.spines[side].set_linewidth(1.3)
    ax.set_xticks(xticks)
    ax.set_xticklabels(xlabels, fontweight="bold", fontsize=11, family="DejaVu Sans")
    ax.set_yticks(yticks)
    ax.set_yticklabels(ylabels, fontweight="bold", fontsize=11, family="DejaVu Sans")
    ax.tick_params(direction="in", length=5, width=1, color="#222222")
    ax.tick_params(axis="y", pad=3)
    ax.tick_params(axis="x", pad=7)


def title_lines(x_px, base1_px, base2_px, name):
    fig.text(x_px / W, 1 - base1_px / H, r"Densité $\Psi$(u)", fontsize=16.5,
             ha="left", va="baseline", color="black")
    fig.text(x_px / W, 1 - base2_px / H, f"({name})", fontsize=16.5,
             ha="left", va="baseline", color="black")


ax1 = axes_from_pixels(43, 18, 781, 470)
draw_panel(ax1, expo_u, expo_curves, expo_colors, (-0.2, 1.2), (0, 4.5),
           expo_xticks, expo_xlabels, expo_yticks, expo_ylabels)
title_lines(447, 82, 115, "Expo")

ax2 = axes_from_pixels(43, 535, 781, 986)
draw_panel(ax2, weib_u, weib_curves, weib_colors, (-1, 2), (0, 1.5),
           weib_xticks, weib_xlabels, weib_yticks, weib_ylabels)
title_lines(550, 563, 595, "Weibull")

ax3 = axes_from_pixels(43, 1066, 784, 1517)
draw_panel(ax3, pareto_u, pareto_curves, pareto_colors, (-0.05, 0.45), (0, 30),
           pareto_xticks, pareto_xlabels, pareto_yticks, pareto_ylabels)
title_lines(367, 1127, 1155, "Pareto")

fig.savefig("out.png", dpi=100, facecolor="white")
